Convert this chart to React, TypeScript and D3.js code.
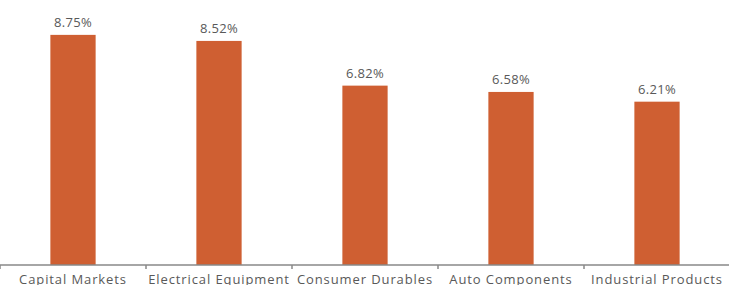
import React from "react";
import * as d3 from "d3";

const categories = ["Capital Markets", "Electrical Equipment", "Consumer Durables", "Auto Components", "Industrial Products"];
const values = [8.75, 8.52, 6.82, 6.58, 6.21];

const W = 729;
const H = 285;
const baseY = 265;

export default function App() {
  const x = d3.scaleBand<string>().domain(categories).range([0, 730]).paddingInner(0.69).paddingOuter(0.345);
  const y = d3.scaleLinear().domain([0, 10]).range([baseY, baseY - 263]);
  const step = x.step();
  const ticks = d3.range(categories.length + 1).map((i) => i * step);
  return (
    <svg width={W} height={H} style={{ position: "absolute", left: 0, top: 0 }}>
      {categories.map((c, i) => (
        <rect key={c} x={x(c)} y={y(values[i])} width={x.bandwidth()} height={baseY - y(values[i])} fill="#CF5F32" />
      ))}
      {categories.map((c, i) => (
        <text key={"l" + c} x={(x(c) ?? 0) + x.bandwidth() / 2} y={y(values[i]) - 8} textAnchor="middle"
          fontFamily="Open Sans" fontSize={13} letterSpacing={0.3} fill="#595959">
          {values[i].toFixed(2)}%
        </text>
      ))}
      <line x1={0} x2={W} y1={baseY} y2={baseY} stroke="#898989" strokeWidth={1.5} />
      {ticks.map((t, i) => (
        <line key={"t" + i} x1={t} x2={t} y1={baseY} y2={baseY + 4} stroke="#898989" strokeWidth={1.5} />
      ))}
      {categories.map((c) => (
        <text key={"a" + c} x={(x(c) ?? 0) + x.bandwidth() / 2} y={284} textAnchor="middle"
          fontFamily="Open Sans" fontSize={13} letterSpacing={0.9} fill="#595959">
          {c}
        </text>
      ))}
    </svg>
  );
}
